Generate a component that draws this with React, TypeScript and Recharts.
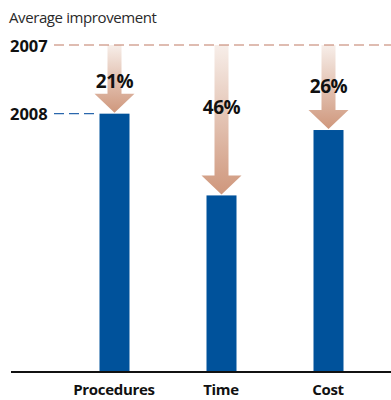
import { BarChart, Bar, XAxis, YAxis, ReferenceLine } from 'recharts'

const categories = ['Procedures', 'Time', 'Cost']
const base2007 = 100
const values2008 = [79, 54, 74]

const data = categories.map((name, i) => ({
  name,
  v2008: values2008[i],
  improvement: base2007 - values2008[i],
}))

const FONT = '"Open Sans", sans-serif'
const BLUE = '#00529b'

const ArrowBar = (props: any) => {
  const { x, y, width, height, value, payload } = props
  const cx = x + width / 2
  const bottom = y + height
  const pxPerUnit = height / value
  const top = bottom - base2007 * pxPerUnit
  const tip = y - 1
  const headTop = tip - 19
  const len = tip - top
  const pts = [
    [cx - 7, top], [cx + 7, top], [cx + 7, headTop], [cx + 20, headTop],
    [cx, tip], [cx - 20, headTop], [cx - 7, headTop],
  ].map((p) => p.join(',')).join(' ')
  return (
    <g>
      <rect x={x} y={y} width={width} height={height} fill={BLUE} />
      <polygon points={pts} fill="url(#arrowGrad)" />
      <text x={cx} y={top + len * 0.32 + 14} textAnchor="middle" dominantBaseline="central"
        fontFamily={FONT} fontWeight={700} fontSize={19} letterSpacing={-0.5} fill="#111">
        {payload.improvement}%
      </text>
    </g>
  )
}

const Line2007 = (props: any) => {
  const { x1, y1, x2 } = props
  return (
    <g>
      <text x={x1 - 1} y={y1} dominantBaseline="central" fontFamily={FONT} fontWeight={700} fontSize={16.5} fill="#111">2007</text>
      <line x1={x1 + 43} y1={y1} x2={x2} y2={y1} stroke="#c07a64" strokeWidth={1.2} strokeDasharray="10 5" />
    </g>
  )
}

const Line2008 = (props: any) => {
  const { x1, y1 } = props
  return (
    <g>
      <text x={x1 - 1} y={y1} dominantBaseline="central" fontFamily={FONT} fontWeight={700} fontSize={16.5} fill="#111">2008</text>
      <line x1={x1 + 43} y1={y1} x2={x1 + 88} y2={y1} stroke="#2a67ad" strokeWidth={1.2} strokeDasharray="10 5" />
    </g>
  )
}

const CatTick = ({ x, y, payload }: any) => (
  <text x={x} y={y + 9} textAnchor="middle" dominantBaseline="central" fontFamily={FONT} fontWeight={700} fontSize={15} letterSpacing={-0.3} fill="#111">
    {payload.value}
  </text>
)

export default function App() {
  return (
    <div style={{ position: 'absolute', left: 0, top: 0, width: 391, height: 400, background: '#fff' }}>
      <div style={{ position: 'absolute', left: 9, top: 7, fontFamily: FONT, fontSize: 15, color: '#2a2a2a', letterSpacing: -0.4 }}>
        Average improvement
      </div>
      <BarChart width={391} height={400} data={data} margin={{ top: 45, right: 0, bottom: 0, left: 11 }}>
        <defs>
          <linearGradient id="arrowGrad" x1="0" y1="0" x2="0" y2="1">
            <stop offset="0%" stopColor="#f7eee9" />
            <stop offset="100%" stopColor="#cf977c" />
          </linearGradient>
        </defs>
        <YAxis hide domain={[0, base2007]} />
        <XAxis dataKey="name" height={28} padding={{ left: 49.5, right: 9.5 }} axisLine={{ stroke: '#111', strokeWidth: 2 }}
          tickLine={false} tick={<CatTick />} interval={0} />
        <ReferenceLine y={base2007} shape={<Line2007 />} ifOverflow="visible" />
        <ReferenceLine y={values2008[0]} shape={<Line2008 />} ifOverflow="visible" />
        <Bar dataKey="v2008" barSize={30} shape={<ArrowBar />} isAnimationActive={false} />
      </BarChart>
    </div>
  )
}
